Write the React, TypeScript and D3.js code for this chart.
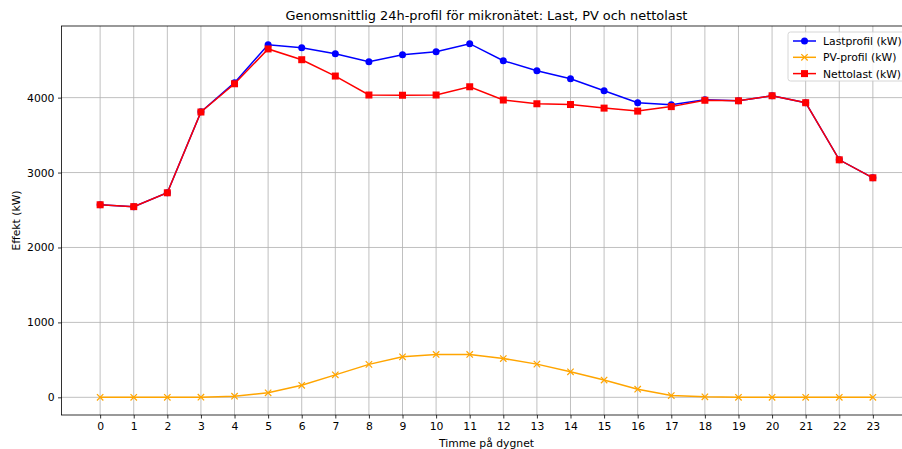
import React, { useEffect, useRef } from "react";
import * as d3 from "d3";

const hours = d3.range(0, 24);
const lastProfil = [2570, 2545, 2730, 3810, 4200, 4706, 4666, 4586, 4480, 4573, 4613, 4720,
  4493, 4360, 4253, 4092, 3932, 3905, 3972, 3958, 4025, 3932, 3170, 2930];
const pvProfil = [0, 0, 0, 2, 15, 60, 160, 300, 440, 541, 572, 572,
  518, 443, 340, 230, 109, 24, 7, 0, 0, 0, 0, 0];
const nettoLast = [2570, 2545, 2730, 3808, 4185, 4650, 4506, 4288, 4035, 4032, 4035, 4145,
  3968, 3918, 3908, 3860, 3820, 3880, 3965, 3958, 4025, 3932, 3170, 2930];
const yTicks = [0, 1000, 2000, 3000, 4000];

const W = 902, H = 449;
// axes box runs past the right edge of the picture
const plot = { left: 61.5, right: 911.5, top: 26, bottom: 415 };

export default function App() {
  const ref = useRef<SVGSVGElement>(null);

  useEffect(() => {
    const svg = d3.select(ref.current);
    svg.selectAll("*").remove();
    const font = "DejaVu Sans, sans-serif";
    const fs = 10.8;

    const x = d3.scaleLinear().domain([-1.15, 24.15]).range([plot.left, plot.right]);
    const y = d3.scaleLinear().domain([-236, 4956]).range([plot.bottom, plot.top]);
    const cx = (plot.left + plot.right) / 2;

    const g = svg.append("g");

    // grid
    g.selectAll(".gx").data(hours).join("line")
      .attr("x1", d => x(d)).attr("x2", d => x(d))
      .attr("y1", plot.top).attr("y2", plot.bottom)
      .attr("stroke", "#b0b0b0").attr("stroke-width", 0.8);
    g.selectAll(".gy").data(yTicks).join("line")
      .attr("x1", plot.left).attr("x2", plot.right)
      .attr("y1", d => y(d)).attr("y2", d => y(d))
      .attr("stroke", "#b0b0b0").attr("stroke-width", 0.8);

    // axes
    const xAxis = d3.axisBottom(x).tickValues(hours).tickSize(3.5).tickPadding(3.5).tickFormat(d3.format("d"));
    const yAxis = d3.axisLeft(y).tickValues(yTicks).tickSize(3.5).tickPadding(3.5).tickFormat(d3.format("d"));
    const xa = svg.append("g").attr("transform", `translate(0,${plot.bottom})`).call(xAxis);
    const ya = svg.append("g").attr("transform", `translate(${plot.left},0)`).call(yAxis);
    [xa, ya].forEach(a => {
      a.select(".domain").remove();
      a.selectAll("text").attr("font-family", font).attr("font-size", fs).attr("fill", "#000");
      a.selectAll("line").attr("stroke", "#000").attr("stroke-width", 0.8);
    });

    // spines
    svg.append("rect")
      .attr("x", plot.left).attr("y", plot.top)
      .attr("width", plot.right - plot.left).attr("height", plot.bottom - plot.top)
      .attr("fill", "none").attr("stroke", "#000").attr("stroke-width", 0.8);

    const line = d3.line<number>().x((_, i) => x(hours[i])).y(d => y(d));

    const series = [
      { name: "Lastprofil (kW)", data: lastProfil, color: "blue", marker: "circle" },
      { name: "PV-profil (kW)", data: pvProfil, color: "orange", marker: "x" },
      { name: "Nettolast (kW)", data: nettoLast, color: "red", marker: "square" },
    ];

    const drawMarker = (sel: any, m: string, c: string, px: number, py: number) => {
      if (m === "circle") {
        sel.append("circle").attr("cx", px).attr("cy", py).attr("r", 3.5).attr("fill", c);
      } else if (m === "square") {
        sel.append("rect").attr("x", px - 3.5).attr("y", py - 3.5).attr("width", 7).attr("height", 7).attr("fill", c);
      } else {
        sel.append("path").attr("d", `M${px - 3.2},${py - 3.2}L${px + 3.2},${py + 3.2}M${px - 3.2},${py + 3.2}L${px + 3.2},${py - 3.2}`)
          .attr("stroke", c).attr("stroke-width", 1.2);
      }
    };

    series.forEach(s => {
      const sg = svg.append("g");
      sg.append("path").datum(s.data).attr("d", line).attr("fill", "none")
        .attr("stroke", s.color).attr("stroke-width", 1.5);
      s.data.forEach((v, i) => drawMarker(sg, s.marker, s.color, x(hours[i]), y(v)));
    });

    // labels
    svg.append("text").attr("x", cx).attr("y", 20)
      .attr("text-anchor", "middle").attr("font-family", font).attr("font-size", 12.9)
      .text("Genomsnittlig 24h-profil för mikronätet: Last, PV och nettolast");
    svg.append("text").attr("x", cx).attr("y", 447)
      .attr("text-anchor", "middle").attr("font-family", font).attr("font-size", fs)
      .text("Timme på dygnet");
    svg.append("text").attr("transform", `translate(20,${(plot.top + plot.bottom) / 2}) rotate(-90)`)
      .attr("text-anchor", "middle").attr("font-family", font).attr("font-size", fs)
      .text("Effekt (kW)");

    // legend
    const lg = svg.append("g").attr("transform", "translate(788,32)");
    lg.append("rect").attr("width", 130).attr("height", 49).attr("rx", 2.5)
      .attr("fill", "white").attr("fill-opacity", 0.8).attr("stroke", "#cccccc").attr("stroke-width", 0.8);
    series.forEach((s, i) => {
      const yy = 9 + i * 16.3;
      const row = lg.append("g");
      row.append("line").attr("x1", 5).attr("x2", 28).attr("y1", yy).attr("y2", yy)
        .attr("stroke", s.color).attr("stroke-width", 1.5);
      drawMarker(row, s.marker, s.color, 16.5, yy);
      row.append("text").attr("x", 35).attr("y", yy + 4).attr("font-family", font).attr("font-size", fs)
        .text(s.name);
    });
  }, []);

  return (
    <svg ref={ref} width={W} height={H} style={{ position: "absolute", left: 0, top: 0, background: "white" }} />
  );
}
